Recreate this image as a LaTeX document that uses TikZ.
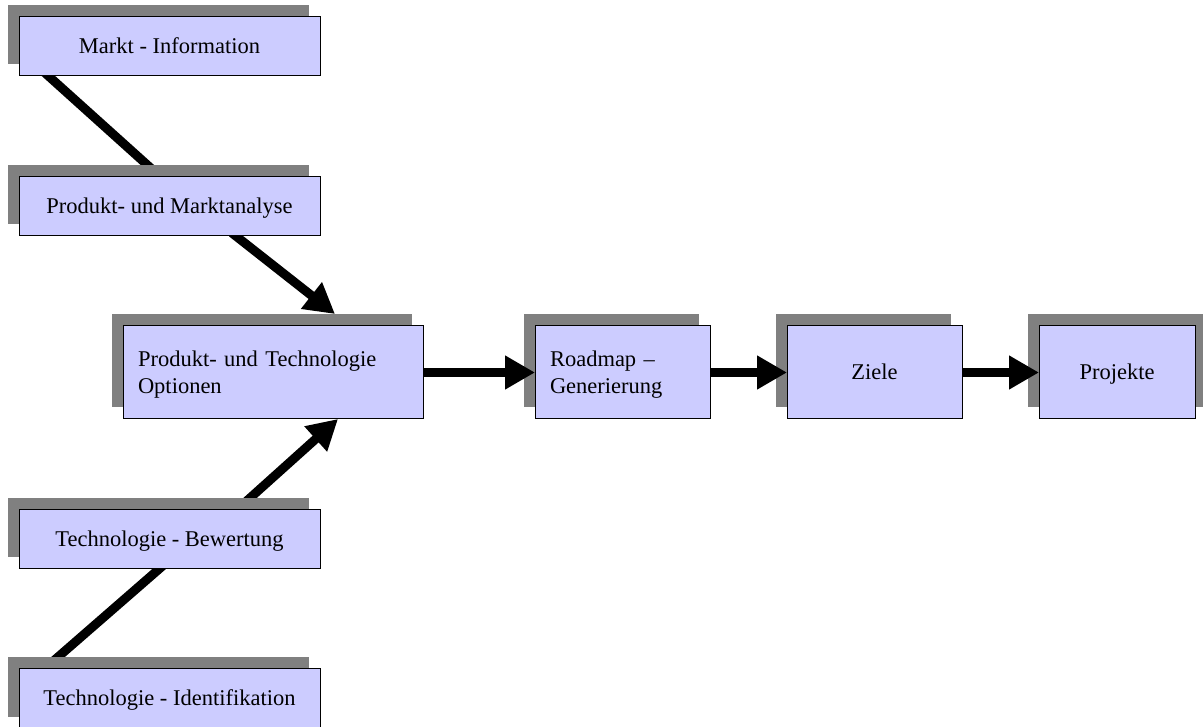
\documentclass[tikz,border=0pt]{standalone}
\usepackage{fontspec}
\setmainfont{Liberation Serif}
\usetikzlibrary{arrows.meta,calc}
\definecolor{boxfill}{HTML}{CCCCFF}
\definecolor{shadegray}{HTML}{808080}
\pgfdeclarelayer{back}
\pgfdeclarelayer{shadelayer}
\pgfsetlayers{back,shadelayer,main}

\begin{document}
\begin{tikzpicture}[x=1pt,y=-1pt,
  box/.style={draw=black, line width=1pt, fill=boxfill, inner sep=0pt, outer sep=0pt,
    font=\fontsize{22.5}{27}\selectfont, text height=15pt, text depth=0pt},
  widebox/.style={box, minimum width=301pt, minimum height=59pt},
  twobox/.style={box, align=left, inner xsep=15pt, text depth=27pt, minimum height=93pt},
  conn/.style={line width=9pt, black},
  head/.style={-{Triangle[length=30pt,width=32pt]}}
]
\useasboundingbox (0,0) rectangle (1203,727);

% process boxes
\node[widebox] (markt) at (169.5,46.5) {Markt - Information};
\node[widebox] (pma) at (169.5,206.5) {Produkt- und Marktanalyse};
\node[twobox, minimum width=300pt, text width=270pt] (opt) at (273,372.5) {Produkt- und Technologie\\Optionen};
\node[widebox] (bew) at (169.5,538.5) {Technologie - Bewertung};
\node[widebox, minimum height=60pt] (ident) at (169.5,698) {Technologie - Identifikation};
\node[twobox, minimum width=175pt, text width=145pt] (road) at (622.5,372.5) {Roadmap –\\Generierung};
\node[box, minimum width=175pt, minimum height=93pt] (ziele) at (874.5,372.5) {Ziele};
\node[box, minimum width=156pt, minimum height=93pt] (proj) at (1117,372.5) {Projekte};

% drop shadows, offset up and to the left
\begin{pgfonlayer}{shadelayer}
  \foreach \n in {markt,pma,opt,bew,ident,road,ziele}
    \fill[shadegray] ($(\n.north west)+(-11.5,-11.5)$) rectangle ($(\n.south east)+(-11.5,-11.5)$);
  \fill[shadegray] ($(proj.north west)+(-11.5,-11.5)$) rectangle ($(proj.south east)+(8,-11.5)$);
\end{pgfonlayer}

% diagonal feeds into the options box
\begin{pgfonlayer}{back}
  \draw[conn] ($(markt.south west)+(25,-4)$) -- ($(pma.north west)+(135,-6)$);
  \draw[conn, head] ($(pma.south west)+(213,-3)$) -- ($(opt.north west)+(212,-12)$);
  \draw[conn] ($(ident.north west)+(31,-4)$) -- ($(bew.south west)+(147,-5)$);
  \draw[conn, head] ($(bew.north west)+(221,-2)$) -- ($(opt.south west)+(215,0)$);
\end{pgfonlayer}

% main chain
\draw[conn, head] (opt.east) -- (road.west);
\draw[conn, head] (road.east) -- (ziele.west);
\draw[conn, head] (ziele.east) -- (proj.west);
\end{tikzpicture}
\end{document}
